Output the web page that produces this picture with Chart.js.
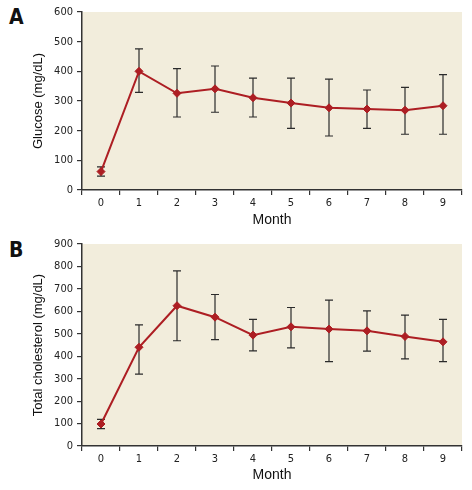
<!DOCTYPE html>
<html>
<head>
<meta charset="utf-8">
<script src="https://cdn.jsdelivr.net/npm/chart.js@4"></script>
<style>
  html, body { margin: 0; padding: 0; background: #fff; }
  body { width: 472px; height: 490px; position: relative; overflow: hidden; }
  .panel { position: absolute; left: 0; width: 472px; }
  .letter {
    position: absolute; left: 9px;
    font: bold 21px "Liberation Sans Narrow", "DejaVu Sans Condensed", "Liberation Sans", sans-serif;
    line-height: 21px; color: #111;
  }
</style>
</head>
<body>
<div class="letter" style="top:7px">A</div>
<div class="letter" style="top:240px">B</div>
<div class="panel" style="top:0;height:235px"><canvas id="chartA"></canvas></div>
<div class="panel" style="top:232px;height:258px"><canvas id="chartB"></canvas></div>
<script>
const months = ["0", "1", "2", "3", "4", "5", "6", "7", "8", "9"];

// Glucose (mg/dL): mean with lower / upper error bar ends
const glucoseMean = [62, 400, 326, 341, 311, 293, 277, 273, 269, 284];
const glucoseLow = [47, 329, 246, 262, 246, 208, 182, 208, 188, 188];
const glucoseHigh = [78, 476, 409, 418, 377, 377, 374, 337, 346, 389];

// Total cholesterol (mg/dL)
const cholMean = [98, 440, 625, 574, 494, 531, 521, 513, 488, 464];
const cholLow = [77, 320, 469, 474, 424, 437, 376, 423, 388, 376];
const cholHigh = [119, 540, 780, 675, 564, 617, 650, 602, 583, 564];

const RED = "#ad1e23";
const AXIS = "#333";
const TICK_FONT = { family: "'Liberation Sans Narrow', 'DejaVu Sans Condensed', 'Liberation Sans', sans-serif", size: 11 };
const TITLE_FAMILY = "'Liberation Sans', Arial, sans-serif";

// beige plot background
const bgPlugin = {
  id: "bg",
  beforeDraw(chart) {
    const { ctx, chartArea: a } = chart;
    ctx.save();
    ctx.fillStyle = "#f2eddc";
    ctx.fillRect(a.left, a.top, a.right - a.left, a.bottom - a.top);
    ctx.restore();
  },
};

// error bars under the line, positioned through the chart scales
const errPlugin = {
  id: "err",
  beforeDatasetsDraw(chart, args, opts) {
    const { ctx, scales } = chart;
    const x = scales.x, y = scales.y;
    ctx.save();
    ctx.strokeStyle = "#2b2b2b";
    ctx.lineWidth = 1.2;
    opts.low.forEach((lo, i) => {
      const px = x.getPixelForValue(i);
      const y1 = y.getPixelForValue(lo);
      const y2 = y.getPixelForValue(opts.high[i]);
      ctx.beginPath();
      ctx.moveTo(px, y1); ctx.lineTo(px, y2);
      ctx.moveTo(px - 4, y1); ctx.lineTo(px + 4, y1);
      ctx.moveTo(px - 4, y2); ctx.lineTo(px + 4, y2);
      ctx.stroke();
    });
    ctx.restore();
  },
};

function makeChart(id, mean, low, high, max, yTitle, xHeight) {
  return new Chart(document.getElementById(id), {
    type: "line",
    data: {
      labels: months,
      datasets: [{
        data: mean,
        borderColor: RED,
        backgroundColor: RED,
        borderWidth: 2,
        pointStyle: "rectRot",
        pointRadius: 4,
        pointBorderWidth: 1,
        tension: 0,
      }],
    },
    options: {
      responsive: true,
      maintainAspectRatio: false,
      animation: false,
      layout: { padding: { top: 12, right: 10, left: 0, bottom: 0 } },
      plugins: {
        legend: { display: false },
        tooltip: { enabled: false },
        err: { low, high },
      },
      scales: {
        x: {
          offset: true,
          grid: { offset: true, drawOnChartArea: false, drawTicks: true, tickLength: 5, color: AXIS, lineWidth: 1.2 },
          border: { color: AXIS, width: 1.5 },
          ticks: { font: TICK_FONT, color: "#222", padding: 2, maxRotation: 0 },
          title: { display: true, text: "Month", color: "#111", font: { family: TITLE_FAMILY, size: 14 }, padding: { top: 0, bottom: 6 } },
          afterFit: (s) => { s.height = xHeight; },
        },
        y: {
          min: 0,
          max: max,
          ticks: { stepSize: 100, font: TICK_FONT, color: "#222", padding: 4 },
          grid: { drawOnChartArea: false, drawTicks: true, tickLength: 5, color: AXIS, lineWidth: 1.2 },
          border: { color: AXIS, width: 1.5 },
          title: { display: true, text: yTitle, color: "#111", font: { family: TITLE_FAMILY, size: 13 }, padding: { top: 31, bottom: 0 } },
          afterFit: (s) => { s.width = 82; },
        },
      },
    },
    plugins: [bgPlugin, errPlugin],
  });
}

makeChart("chartA", glucoseMean, glucoseLow, glucoseHigh, 600, "Glucose (mg/dL)", 45);
makeChart("chartB", cholMean, cholLow, cholHigh, 900, "Total cholesterol (mg/dL)", 44);
</script>
</body>
</html>
